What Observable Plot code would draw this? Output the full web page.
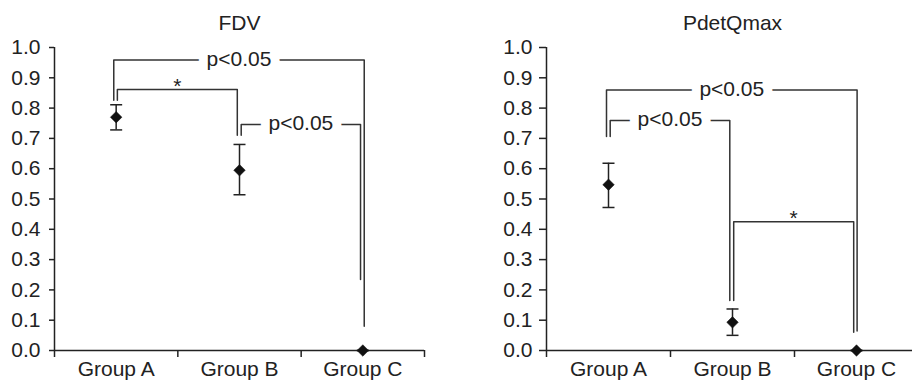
<!DOCTYPE html>
<html><head><meta charset="utf-8">
<script src="https://cdn.jsdelivr.net/npm/d3@7"></script>
<script src="https://cdn.jsdelivr.net/npm/@observablehq/plot@0.6"></script>
<style>
body{margin:0;background:#fff;overflow:hidden}
#wrap{position:relative;width:912px;height:381px;overflow:hidden;background:#fff}
#wrap > div{position:absolute;top:0}
#left{left:0;width:456px}
#right{left:456px;width:462px}
#wrap svg{max-width:none}
</style></head><body><div id="wrap"><div id="left"></div><div id="right"></div></div>
<script>
// ---- data ----
const groups = ["Group A", "Group B", "Group C"];
const yTicks = [0, 0.1, 0.2, 0.3, 0.4, 0.5, 0.6, 0.7, 0.8, 0.9, 1.0];

const fdvTitle = "FDV";
const fdvMean = [0.77, 0.595, 0];
const fdvLow  = [0.728, 0.514, 0];
const fdvHigh = [0.811, 0.68, 0];
const fdvBrackets = [
  {from: 0, to: 2, top: 0.959, fromEnd: 0.826, toEnd: 0.08,  label: "p<0.05"},
  {from: 0, to: 1, top: 0.861, fromEnd: 0.826, toEnd: 0.71,  label: "*"},
  {from: 1, to: 2, top: 0.746, fromEnd: 0.71,  toEnd: 0.234, label: "p<0.05"}
];

const pdetTitle = "PdetQmax";
const pdetMean = [0.547, 0.093, 0];
const pdetLow  = [0.472, 0.05, 0];
const pdetHigh = [0.618, 0.137, 0];
const pdetBrackets = [
  {from: 0, to: 2, top: 0.86,  fromEnd: 0.706, toEnd: 0.064, label: "p<0.05"},
  {from: 0, to: 1, top: 0.759, fromEnd: 0.706, toEnd: 0.165, label: "p<0.05"},
  {from: 1, to: 2, top: 0.425, fromEnd: 0.165, toEnd: 0.06,  label: "*"}
];

// ---- layout (pixel offsets of bracket legs from the group centre) ----
const fdvLegs  = [[-2.4, 1.4], [1.2, -2.2], [1.7, -2.3]];
const pdetLegs = [[-2.0, 0.6], [1.7, -2.7], [1.2, -2.8]];

const ink = "#222";
const fs = 21;
const capSymbol = {
  draw(context, size) {
    const r = Math.sqrt(size / Math.PI);
    context.moveTo(-r, 0);
    context.lineTo(r, 0);
  }
};

function panel({title, mean, low, high, brackets, legs, width, marginLeft, marginRight, tickSize, tickPadding}) {
  const bandPx = (width - marginLeft - marginRight) / 3;
  const pts = groups.map((g, i) => ({g, x: i + 0.5, mean: mean[i], low: low[i], high: high[i]}));
  const paths = [];
  brackets.forEach((b, k) => {
    const xl = b.from + 0.5 + legs[k][0] / bandPx;
    const xr = b.to + 0.5 + legs[k][1] / bandPx;
    paths.push({k, x: xl, y: b.fromEnd}, {k, x: xl, y: b.top}, {k, x: xr, y: b.top}, {k, x: xr, y: b.toEnd});
  });
  const labels = brackets.map((b, k) => ({
    label: b.label,
    x: (b.from + 0.5 + legs[k][0] / bandPx + b.to + 0.5 + legs[k][1] / bandPx) / 2,
    y: b.top
  }));
  const pLabels = labels.filter(d => d.label !== "*");
  const starLabels = labels.filter(d => d.label === "*");

  return Plot.plot({
    width, height: 381,
    marginLeft, marginRight, marginTop: 47, marginBottom: 31,
    style: {fontFamily: "'Liberation Sans', Arial, sans-serif", fontSize: fs + "px", color: ink, background: "white", overflow: "visible", maxWidth: "none"},
    x: {type: "linear", domain: [0, 3]},
    y: {domain: [0, 1]},
    marks: [
      Plot.axisY({ticks: yTicks, tickFormat: d3.format(".1f"), tickSize, tickPadding, label: null, fontSize: fs, stroke: ink, strokeWidth: 1.5, fill: ink}),
      Plot.axisX({ticks: [0, 1, 2, 3], tickFormat: () => "", tickSize: 7, label: null, stroke: ink, strokeWidth: 1.5}),
      Plot.axisX({ticks: [0.5, 1.5, 2.5], tickSize: 0, tickPadding: 11, tickFormat: d => groups[Math.round(d - 0.5)], label: null, fontSize: fs, fill: ink}),
      Plot.ruleX([0], {y1: 0, y2: 1, stroke: ink, strokeWidth: 1.5}),
      Plot.ruleY([0], {x1: 0, x2: 3, stroke: ink, strokeWidth: 1.5}),
      Plot.line(paths, {x: "x", y: "y", z: "k", stroke: "#333", strokeWidth: 1.5, curve: "linear"}),
      Plot.text(pLabels, {x: "x", y: "y", text: "label", fontSize: fs, fill: ink, stroke: "white", strokeWidth: 18, strokeLinejoin: "round", paintOrder: "stroke", dy: -1}),
      Plot.text(starLabels, {x: "x", y: "y", text: "label", fontSize: fs, fill: ink, lineAnchor: "bottom", dy: 3}),
      Plot.ruleX(pts, {x: "x", y1: "low", y2: "high", stroke: ink, strokeWidth: 1.5}),
      Plot.dot(pts, {x: "x", y: "low", symbol: capSymbol, r: 6, stroke: ink, strokeWidth: 1.5, fill: "none"}),
      Plot.dot(pts, {x: "x", y: "high", symbol: capSymbol, r: 6, stroke: ink, strokeWidth: 1.5, fill: "none"}),
      Plot.dot(pts, {x: "x", y: "mean", symbol: "diamond2", r: 5.2, fill: "#111", stroke: "#111", strokeWidth: 0.5}),
      Plot.text([title], {frameAnchor: "top", lineAnchor: "middle", dy: -24, fontSize: fs, fill: ink})
    ]
  });
}

document.getElementById("left").append(panel({
  title: fdvTitle, mean: fdvMean, low: fdvLow, high: fdvHigh, brackets: fdvBrackets, legs: fdvLegs,
  width: 456, marginLeft: 54, marginRight: 32, tickSize: 5, tickPadding: 9
}));
document.getElementById("right").append(panel({
  title: pdetTitle, mean: pdetMean, low: pdetLow, high: pdetHigh, brackets: pdetBrackets, legs: pdetLegs,
  width: 462, marginLeft: 90, marginRight: 0, tickSize: 7, tickPadding: 7
}));
</script></body></html>
